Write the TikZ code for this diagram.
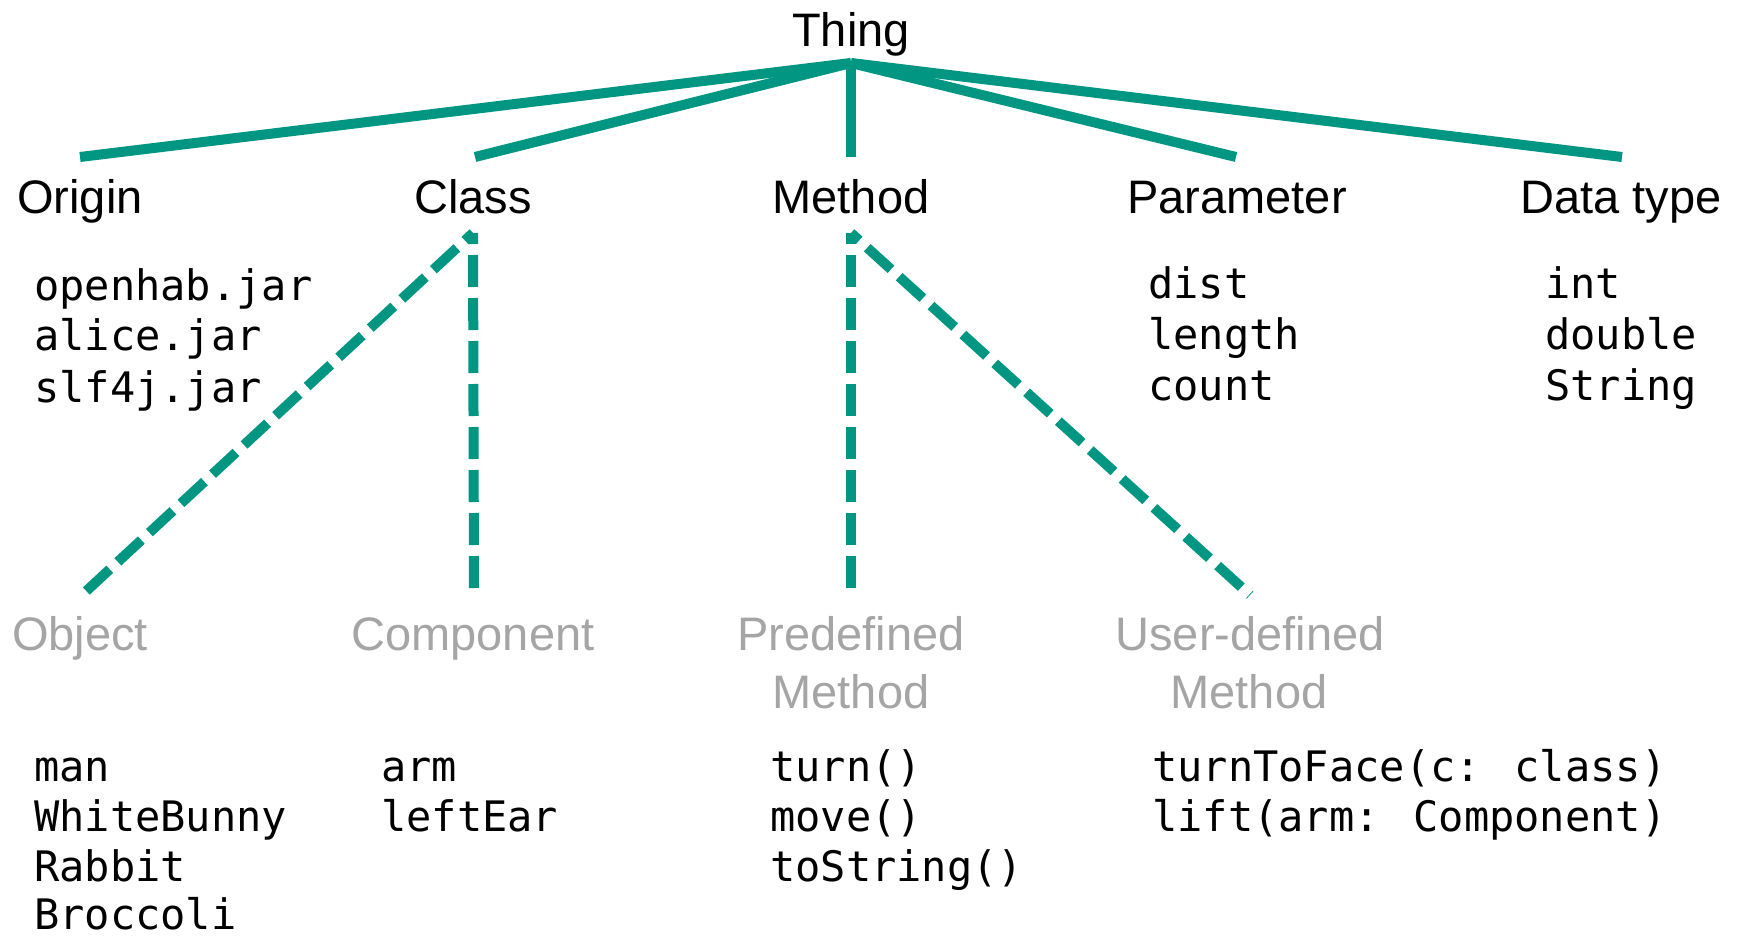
\documentclass[tikz,border=0pt]{standalone}
\usepackage{fontspec}
\setmainfont{Liberation Sans}
\newfontfamily\codefont{DejaVu Sans Mono}
\definecolor{kitgreen}{RGB}{0,150,130}
\definecolor{softgray}{RGB}{165,165,165}
\begin{document}
\begin{tikzpicture}[x=1pt,y=-1pt,
  label/.style={inner sep=0pt,anchor=base,font=\fontsize{47}{56}\selectfont},
  sublabel/.style={label,text=softgray},
  code/.style={inner sep=0pt,anchor=base west,font=\codefont\fontsize{42}{50}\selectfont},
  solidlink/.style={draw=kitgreen,line width=10pt,line cap=butt,line join=miter},
  dashlink/.style={draw=kitgreen,line width=10pt,line cap=butt,dash pattern=on 32pt off 11pt,dash phase=21pt}]
\useasboundingbox (0,0) rectangle (1740,939);

% top level
\node[label] (thing) at (851,47) {Thing};
\coordinate (thingfoot) at (851,63);

\node[label] (origin) at (80,213) {Origin};
\node[label] (class) at (473,213) {Class};
\node[label] (method) at (851,213) {Method};
\node[label] (param) at (1237,213) {Parameter};
\node[label] (dtype) at (1621,213) {Data type};

\coordinate (originhead) at (80,157);
\coordinate (classhead) at (475,157);
\coordinate (methodhead) at (851,157);
\coordinate (paramhead) at (1236,157);
\coordinate (dtypehead) at (1622,157);

\draw[solidlink] (thingfoot) -- (originhead);
\draw[solidlink] (thingfoot) -- (classhead);
\draw[solidlink] (thingfoot) -- (methodhead);
\draw[solidlink] (thingfoot) -- (paramhead);
\draw[solidlink] (thingfoot) -- (dtypehead);

% examples under the top-level categories
\node[code] (o1) at (34,300) {openhab.jar};
\node[code] (o2) at (34,350) {alice.jar};
\node[code] (o3) at (34,402) {slf4j.jar};

\node[code] (p1) at (1148,298) {dist};
\node[code] (p2) at (1148,349) {length};
\node[code] (p3) at (1148,400) {count};

\node[code] (d1) at (1545,298) {int};
\node[code] (d2) at (1545,349) {double};
\node[code] (d3) at (1545,400) {String};

% sub-categories
\coordinate (classfoot) at (473,233);
\coordinate (methodfoot) at (851,233);
\coordinate (objecthead) at (82,595);
\coordinate (componenthead) at (474,593);
\coordinate (predefhead) at (851,593);
\coordinate (userhead) at (1250,595);

\draw[dashlink] (classfoot) -- (objecthead);
\draw[dashlink] (classfoot) -- (componenthead);
\draw[dashlink] (methodfoot) -- (predefhead);
\draw[dashlink] (methodfoot) -- (userhead);

\node[sublabel] (object) at (80,650) {Object};
\node[sublabel] (component) at (473,650) {Component};
\node[sublabel] (predef) at (851,650) {Predefined};
\node[sublabel] (predef2) at (851,708) {Method};
\node[sublabel] (userdef) at (1250,650) {User-defined};
\node[sublabel] (userdef2) at (1249,708) {Method};

% examples under the sub-categories
\node[code] (ob1) at (34,781) {man};
\node[code] (ob2) at (34,831) {WhiteBunny};
\node[code] (ob3) at (34,881) {Rabbit};
\node[code] (ob4) at (34,929) {Broccoli};

\node[code] (c1) at (381,781) {arm};
\node[code] (c2) at (381,831) {leftEar};

\node[code] (pm1) at (770,781) {turn()};
\node[code] (pm2) at (770,831) {move()};
\node[code] (pm3) at (770,881) {toString()};

\node[code] (u1) at (1152,781) {turnToFace(c: class)};
\node[code] (u2) at (1152,831) {lift(arm: Component)};
\end{tikzpicture}
\end{document}
